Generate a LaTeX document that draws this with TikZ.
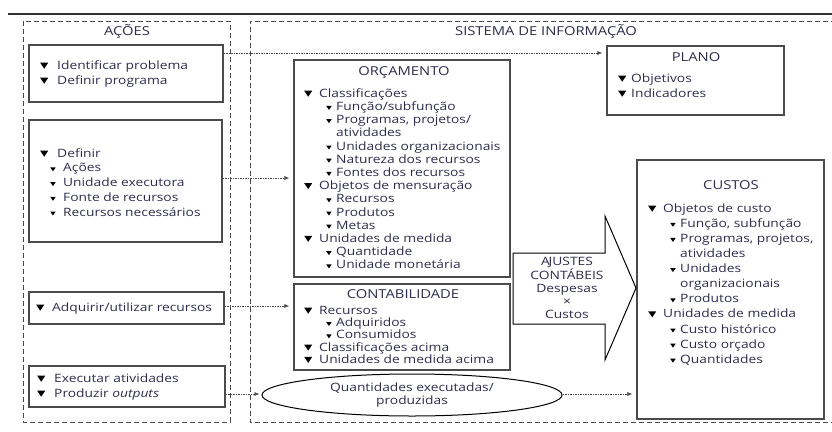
\documentclass[tikz,border=0pt]{standalone}
\usepackage{fontspec}
\setmainfont{Open Sans}[FakeStretch=1.2]
\usetikzlibrary{arrows.meta,shapes.geometric}
\definecolor{txt}{RGB}{45,45,75}
\definecolor{frame}{RGB}{75,75,75}
\newcommand{\bA}{\tikz[baseline=0pt]\fill[black](0pt,6.5pt)--(8pt,6.5pt)--(4pt,0.5pt)--cycle;}
\newcommand{\bB}{\tikz[baseline=0pt]\fill[black](0pt,4.5pt)--(5.5pt,4.5pt)--(2.75pt,0.5pt)--cycle;}
\newcommand{\fs}{\rule{0pt}{9pt}}
\newcommand{\iA}[1]{\makebox[15pt][l]{\bA}#1}
\newcommand{\iB}[1]{\hspace*{22pt}\makebox[10pt][l]{\bB}#1}
\newcommand{\iC}[1]{\hspace*{32pt}#1}
\tikzset{
  box/.style={draw=frame, line width=1.2pt, inner sep=0pt},
  area/.style={draw=frame, line width=1pt, dash pattern=on 5pt off 3pt},
  lst/.style={anchor=north west, align=left, inner sep=0pt, text=txt},
  ttl/.style={inner sep=0pt, text=txt, font=\fontsize{12.3}{13}\selectfont},
  conn/.style={draw=frame, line width=0.6pt, dash pattern=on 1.5pt off 1pt, -{Latex[length=5pt,width=4pt]}, shorten >=4pt},
}
\begin{document}
\begin{tikzpicture}[x=1pt,y=-1pt, font=\fontsize{11.5}{13.2}\selectfont]
\useasboundingbox (0,0) rectangle (832,431);
% top rule
\draw[line width=1.3pt, draw=black!80] (8,14) -- (832,14);
% areas
\draw[area] (23,21) rectangle (230,422);
\draw[area] (836,21) -- (250,21) -- (250,422) -- (836,422);
\node[ttl] (tA) at (127,31) {AÇÕES};
\node[ttl] (tS) at (546,31) {SISTEMA DE INFORMAÇÃO};
% action boxes
\node[box, minimum width=194pt, minimum height=57pt] (b1) at (126,73.5) {};
\node[lst, font=\fontsize{11.5}{15}\selectfont] (b1t) at (40,60) {\fs\makebox[17pt][l]{\bA}Identificar problema\\ \makebox[17pt][l]{\bA}Definir programa};
\node[box, minimum width=193pt, minimum height=122pt] (b2) at (125.5,181) {};
\node[lst, font=\fontsize{11.5}{14.7}\selectfont] (b2t) at (40,148) {\fs\makebox[17pt][l]{\bA}Definir\\
 \hspace*{10pt}\makebox[13pt][l]{\bB}Ações\\
 \hspace*{10pt}\makebox[13pt][l]{\bB}Unidade executora\\
 \hspace*{10pt}\makebox[13pt][l]{\bB}Fonte de recursos\\
 \hspace*{10pt}\makebox[13pt][l]{\bB}Recursos necessários};
\node[box, minimum width=195pt, minimum height=32pt] (b3) at (126.5,308) {};
\node[lst] (b3t) at (36,302) {\fs\makebox[16pt][l]{\bA}Adquirir/utilizar recursos};
\node[box, minimum width=196pt, minimum height=41pt] (b4) at (127,386.5) {};
\node[lst, font=\fontsize{11.5}{15}\selectfont] (b4t) at (37,373) {\fs\makebox[17pt][l]{\bA}Executar atividades\\ \makebox[17pt][l]{\bA}Produzir \emph{outputs}};
% orcamento
\node[box, minimum width=216pt, minimum height=217pt] (orc) at (402,168.5) {};
\node[ttl] (orct) at (404,73) {ORÇAMENTO};
\node[lst] (orcl) at (304,88) {\fs\iA{Classificações}\\
\iB{Função/subfunção}\\
\iB{Programas, projetos/}\\
\iC{atividades}\\
\iB{Unidades organizacionais}\\
\iB{Natureza dos recursos}\\
\iB{Fontes dos recursos}\\
\iA{Objetos de mensuração}\\
\iB{Recursos}\\
\iB{Produtos}\\
\iB{Metas}\\
\iA{Unidades de medida}\\
\iB{Quantidade}\\
\iB{Unidade monetária}};
% contabilidade
\node[box, minimum width=216pt, minimum height=86pt] (cont) at (402,327) {};
\node[ttl] (contt) at (403,294) {CONTABILIDADE};
\node[lst, font=\fontsize{11.5}{12.3}\selectfont] (contl) at (304,305) {\fs\iA{Recursos}\\
\iB{Adquiridos}\\
\iB{Consumidos}\\
\iA{Classificações acima}\\
\iA{Unidades de medida acima}};
% plano
\node[box, minimum width=177pt, minimum height=69pt] (plano) at (695.5,80.5) {};
\node[ttl] (planot) at (696,57) {PLANO};
\node[lst, font=\fontsize{11.5}{15}\selectfont] (planol) at (618,73) {\fs\makebox[13pt][l]{\bA}Objetivos\\ \makebox[13pt][l]{\bA}Indicadores};
% custos
\node[box, minimum width=187pt, minimum height=259pt] (custos) at (730.5,289.5) {};
\node[ttl] (custost) at (731,185) {CUSTOS};
\node[lst, font=\fontsize{11.5}{15.1}\selectfont] (custosl) at (648,203) {\fs\iA{Objetos de custo}\\
\iB{Função, subfunção}\\
\iB{Programas, projetos,}\\
\iC{atividades}\\
\iB{Unidades}\\
\iC{organizacionais}\\
\iB{Produtos}\\
\iA{Unidades de medida}\\
\iB{Custo histórico}\\
\iB{Custo orçado}\\
\iB{Quantidades}};
% ajustes arrow
\draw[draw=black, line width=1pt, fill=white] (513,253) -- (605,253) -- (605,216) -- (636,288) -- (605,360) -- (605,324) -- (513,324) -- cycle;
\node[ttl, align=center, font=\fontsize{11.5}{12.8}\selectfont] (aj) at (567,288) {A\kern-1.2pt JUSTES\\CONTÁBEIS\\Despesas\\×\\Custos};
% ellipse
\node[draw=black, line width=1pt, ellipse, minimum width=300pt, minimum height=42pt, inner sep=0pt, align=center, text=txt, font=\fontsize{11.5}{13.5}\selectfont] (qe) at (412,395) {Quantidades executadas/\\produzidas};
% connectors
\coordinate (c1) at (b1.east |- 0,53);
\draw[conn] (c1) -- (c1 -| plano.west);
\coordinate (c2) at (b2.east |- 0,178);
\draw[conn] (c2) -- (c2 -| orc.west);
\coordinate (c3) at (b3.east |- 0,306);
\draw[conn] (c3) -- (c3 -| cont.west);
\coordinate (c4) at (b4.east |- 0,394);
\draw[conn, shorten >=2pt] (c4) -- (c4 -| qe.west);
\coordinate (c5) at (qe.east |- 0,394);
\draw[conn] (c5) -- (c5 -| custos.west);
\end{tikzpicture}
\end{document}
